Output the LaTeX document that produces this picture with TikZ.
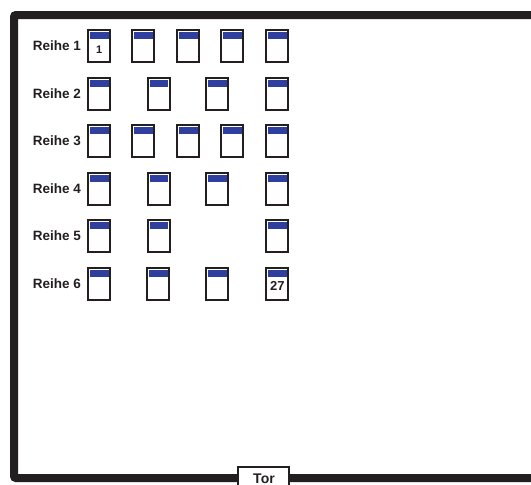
\documentclass[tikz,border=0pt]{standalone}
\usepackage{fontspec}
\setmainfont{Liberation Sans}
\definecolor{framegray}{HTML}{231F20}
\definecolor{bandblue}{HTML}{2E3F9E}
\tikzset{
  seat/.style={draw=framegray, line width=2pt, fill=white, inner sep=0pt,
    minimum width=22pt, minimum height=32pt},
  band/.style={fill=bandblue, draw=none, inner sep=0pt, minimum width=18.5pt, minimum height=7pt},
  rowlabel/.style={font=\bfseries\fontsize{13.5}{15}\selectfont, text=framegray, anchor=east, inner sep=0pt}
}
\begin{document}
\begin{tikzpicture}[x=1pt, y=-1pt]
  \useasboundingbox (0,0) rectangle (531,485);

  % outer wall
  \draw[framegray, line width=8pt, rounded corners=2pt] (545,15) -- (14,15) -- (14,478) -- (545,478);

  % gate
  \node[draw=framegray, line width=2pt, fill=white, minimum width=51pt, minimum height=30pt,
    inner sep=0pt] (tor) at (263.5,481.5) {};
  \node[font=\bfseries\fontsize{14}{16}\selectfont, text=framegray, inner sep=0pt] (torlabel) at (264,478.5) {Tor};

  % rows of seats
  \foreach \row/\ypos/\cols in {
    1/45.5/{99.3,143.3,188.3,232.3,277.3},
    2/93.5/{99.3,158.8,217.3,277.3},
    3/140.5/{99.3,143.3,188.3,232.3,277.3},
    4/188.5/{99.3,158.8,217.3,277.3},
    5/235.5/{99.3,158.8,277.3},
    6/283.5/{99.3,158.3,217.3,277.3}} {
    \node[rowlabel] (reihe\row) at (81,\ypos) {Reihe \row};
    \foreach \xpos [count=\n] in \cols {
      \node[seat] (seat\row\n) at (\xpos,\ypos) {};
      \node[band] (band\row\n) at ([yshift=10pt]seat\row\n.center) {};
    }
  }

  % seat numbers
  \node[font=\bfseries\fontsize{11}{12}\selectfont, text=framegray, inner sep=0pt] (first) at ([yshift=-4pt]seat11.center) {1};
  \node[font=\bfseries\fontsize{13}{15}\selectfont, text=framegray, inner sep=0pt] (last) at ([yshift=-2.5pt]seat64.center) {27};
\end{tikzpicture}
\end{document}
